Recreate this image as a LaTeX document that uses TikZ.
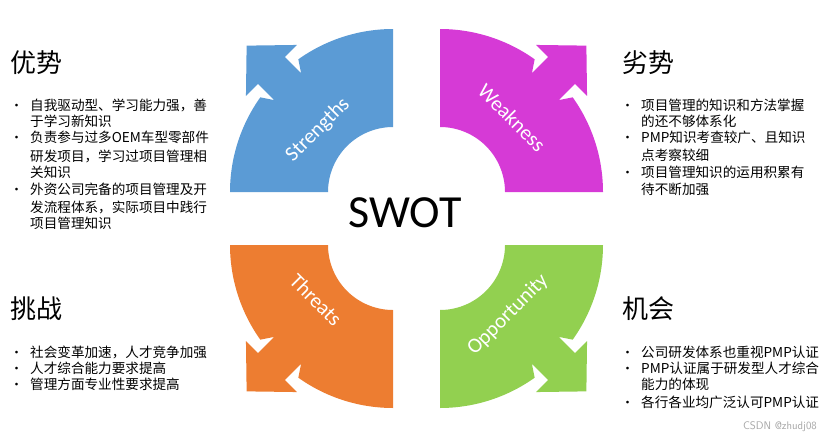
\documentclass[tikz,border=0pt]{standalone}
\usepackage{fontspec}
\setmainfont{Carlito}
\newfontfamily\cjk{Noto Sans CJK SC}
\definecolor{sblue}{HTML}{5B9BD5}
\definecolor{wmag}{HTML}{D63AD6}
\definecolor{torange}{HTML}{ED7D31}
\definecolor{ogreen}{HTML}{92D050}
\tikzset{
 ttl/.style={anchor=base west,font=\cjk\fontsize{26}{28}\selectfont,inner sep=0},
 txt/.style={anchor=base west,font=\cjk\fontsize{13.6}{15}\selectfont,inner sep=0},
 bul/.style={anchor=base west,font=\cjk\fontsize{13}{15}\selectfont,inner sep=0},
 lbl/.style={font=\fontsize{21}{24}\selectfont,text=white},
}
\newcommand{\quadshape}[4]{%
 \begin{scope}[shift={(#1,#2)},rotate=#3]
 \fill[#4] plot[domain=90:125.5,samples=25] (\x:163pt) -- (127.73:150.2pt) -- (128.7:173pt) -- (123.18:175.7pt) -- (135:207pt) -- (146.82:175.7pt) -- (141.3:173pt) -- (142.27:150.2pt) -- plot[domain=144.5:180,samples=25] (\x:163pt) -- plot[domain=180:90,samples=40] (\x:65pt) -- cycle;
 \end{scope}}
\begin{document}
\begin{tikzpicture}[x=1pt,y=1pt]
\useasboundingbox[fill=white] (0,0) rectangle (832,-442);
\quadshape{393}{-192}{0}{sblue}
\quadshape{440}{-192}{-90}{wmag}
\quadshape{440}{-245}{180}{ogreen}
\quadshape{393}{-245}{90}{torange}
\node[lbl,rotate=45] (ls) at (318,-130) {Strengths};
\node[lbl,rotate=-45] (lw) at (512,-118) {Weakness};
\node[lbl,rotate=-45] (lt) at (316,-300) {Threats};
\node[lbl,rotate=45] (lo) at (508,-315) {Opportunity};
\node[font=\fontsize{46}{50}\selectfont] (swot) at (405,-213) {SWOT};
% strengths
\node[ttl] (t1) at (10,-72) {优势};
\foreach \y/\b/\s [count=\i] in {110/1/自我驱动型、学习能力强，善,126/0/于学习新知识,142/1/负责参与过多OEM车型零部件,161/0/研发项目，学习过项目管理相,177/0/关知识,194/1/外资公司完备的项目管理及开,212/0/发流程体系，实际项目中践行,228/0/项目管理知识}{
 \node[txt] (s\i) at (30,-\y) {\s};
 \ifnum\b=1 \node[bul] (sb\i) at (10,-\y) {•};\fi}
% weakness
\node[ttl] (t2) at (622,-72) {劣势};
\foreach \y/\b/\s [count=\i] in {110/1/项目管理的知识和方法掌握,126/0/的还不够体系化,142/1/PMP知识考查较广、且知识,160/0/点考察较细,177/1/项目管理知识的运用积累有,194/0/待不断加强}{
 \node[txt] (w\i) at (641,-\y) {\s};
 \ifnum\b=1 \node[bul] (wb\i) at (621,-\y) {•};\fi}
% threats
\node[ttl] (t3) at (10,-318) {挑战};
\foreach \y/\s [count=\i] in {357/社会变革加速，人才竞争加强,373/人才综合能力要求提高,389/管理方面专业性要求提高}{
 \node[txt] (h\i) at (30,-\y) {\s};
 \node[bul] (hb\i) at (10,-\y) {•};}
% opportunity
\node[ttl] (t4) at (622,-318) {机会};
\foreach \y/\b/\s [count=\i] in {357/1/公司研发体系也重视PMP认证,373/1/PMP认证属于研发型人才综合,389/0/能力的体现,407/1/各行各业均广泛认可PMP认证}{
 \node[txt] (o\i) at (641,-\y) {\s};
 \ifnum\b=1 \node[bul] (ob\i) at (621,-\y) {•};\fi}
\node[anchor=base east,font=\sffamily\fontsize{11}{12}\selectfont,text=gray!70,inner sep=0] (wm) at (817,-429) {CSDN @zhudj08};
\end{tikzpicture}
\end{document}
